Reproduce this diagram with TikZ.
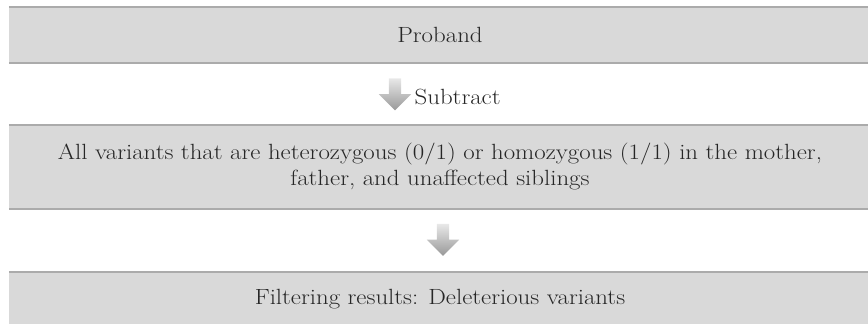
\documentclass[tikz,border=0pt]{standalone}
\usepackage{fontspec}
\setmainfont{Latin Modern Roman}[FakeStretch=1.13]
\usepackage{tikz}
\usetikzlibrary{positioning,shapes.arrows}
\definecolor{bandfill}{HTML}{D9D9D9}
\definecolor{bandrule}{HTML}{ABABAB}
\definecolor{arrowtop}{HTML}{E8E8E8}
\definecolor{arrowbot}{HTML}{989898}

\begin{document}
\begin{tikzpicture}[
  x=1pt, y=1pt,
  band/.style={fill=bandfill, minimum width=862pt, inner sep=0pt, align=center, font=\fontsize{22}{26}\selectfont, text=black!85},
  rule/.style={draw=bandrule, line width=2pt},
  downarrow/.style={single arrow, shape border rotate=270, minimum height=32pt,
    single arrow head extend=10pt, single arrow head indent=0pt, inner sep=0pt,
    top color=arrowtop, bottom color=arrowbot, draw=none},
  note/.style={font=\fontsize{22}{26}\selectfont, text=black!85, inner sep=0pt}
]
\useasboundingbox (0,0) rectangle (868,-324);

\node[band, minimum height=56pt] (proband) at (440,-35) {Proband};
\node[band, minimum height=83pt, below=62pt of proband] (parents)
  {All variants that are heterozygous (0/1) or homozygous (1/1) in the mother,\\
   father, and unaffected siblings};
\node[band, minimum height=54pt, below=63pt of parents] (result) {Filtering results: Deleterious variants};

\node[downarrow, below=15pt of proband, xshift=-45pt] (subarrow) {\rule{12pt}{0pt}};
\node[note, right=13pt of subarrow, yshift=-6pt] (subtract) {Subtract};
\node[downarrow, below=15pt of parents, xshift=3pt] (filtarrow) {\rule{12pt}{0pt}};

% top and bottom rules of each band
\foreach \b in {proband,parents,result} {
  \draw[rule] (\b.north west) -- (\b.north east);
  \draw[rule] (\b.south west) -- (\b.south east);
}
\end{tikzpicture}
\end{document}
